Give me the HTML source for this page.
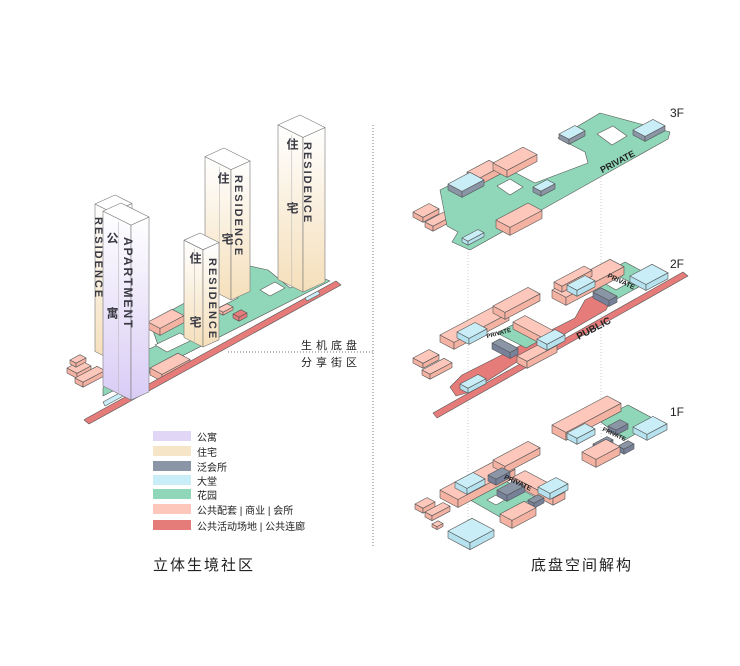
<!DOCTYPE html>
<html><head><meta charset="utf-8">
<style>
html,body{margin:0;padding:0;background:#fff}
#w{position:relative;width:740px;height:666px;overflow:hidden;font-family:"Liberation Sans","Noto Sans CJK SC",sans-serif}
svg{position:absolute;left:0;top:0}
.t{position:absolute;font-size:12px;color:#222;white-space:nowrap}
.v{position:absolute;writing-mode:vertical-rl;font-weight:bold;color:#3a3a44;font-size:11px;letter-spacing:2px;font-family:"Liberation Sans","Noto Sans CJK SC",sans-serif}
.lg{position:absolute;left:197px;font-size:10px;color:#222}
.sw{position:absolute;left:153px;width:38px;height:10px}
</style></head><body><div id="w">
<svg id="s" width="740" height="666" viewBox="0 0 740 666"></svg>

<div class="v" style="left:92px;top:217px">RESIDENCE</div>
<div class="v" style="left:121px;top:237px;font-size:12px">APARTMENT</div>
<div class="v" style="left:104px;top:232px;font-size:12px">公</div>
<div class="v" style="left:104px;top:307px;font-size:12px">寓</div>
<div class="v" style="left:206px;top:258px">RESIDENCE</div>
<div class="v" style="left:187px;top:252px;font-size:12px">住</div>
<div class="v" style="left:187px;top:316px;font-size:12px">宅</div>
<div class="v" style="left:232px;top:175px">RESIDENCE</div>
<div class="v" style="left:215px;top:172px;font-size:12px">住</div>
<div class="v" style="left:219px;top:233px;font-size:12px">宅</div>
<div class="v" style="left:301px;top:142px">RESIDENCE</div>
<div class="v" style="left:284px;top:138px;font-size:12px">住</div>
<div class="v" style="left:284px;top:202px;font-size:12px">宅</div>

<div class="t" style="left:301px;top:337px;font-size:11px;letter-spacing:4px">生机底盘</div>
<div class="t" style="left:301px;top:354px;font-size:11px;letter-spacing:4px">分享街区</div>

<div class="sw" style="top:431px;background:#e2d6f7"></div><div class="lg" style="top:429px">公寓</div>
<div class="sw" style="top:446px;background:#f6e5c6"></div><div class="lg" style="top:444px">住宅</div>
<div class="sw" style="top:461px;background:#8a95a6"></div><div class="lg" style="top:459px">泛会所</div>
<div class="sw" style="top:475px;background:#c9eef7"></div><div class="lg" style="top:473px">大堂</div>
<div class="sw" style="top:489px;background:#8fd7b8"></div><div class="lg" style="top:487px">花园</div>
<div class="sw" style="top:504px;background:#fdc8bb"></div><div class="lg" style="top:502px">公共配套 | 商业 | 会所</div>
<div class="sw" style="top:520px;background:#e57c7a"></div><div class="lg" style="top:518px">公共活动场地 | 公共连廊</div>

<div class="t" style="left:153px;top:554px;font-size:15px;letter-spacing:2px">立体生境社区</div>
<div class="t" style="left:531px;top:554px;font-size:15px;letter-spacing:2px">底盘空间解构</div>
<div class="t" style="left:670px;top:106px;font-size:12px">3F</div>
<div class="t" style="left:670px;top:257px;font-size:12px">2F</div>
<div class="t" style="left:670px;top:405px;font-size:12px">1F</div>

<script>
var s=document.getElementById('s'),o='',K=0.53;
function pts(a){return a.map(function(p){return p[0].toFixed(1)+','+p[1].toFixed(1)}).join(' ');}
function poly(a,f,st){o+='<polygon points="'+pts(a)+'" fill="'+f+'" stroke="'+(st||'#555')+'" stroke-width="0.6" stroke-linejoin="round"/>';}
// box with top-face left corner (x,y), a along up-right, b along down-right
function box(x,y,a,b,h,fill,side){
 var L=[x,y],T=[x+a,y-a*K],R=[x+a+b,y-a*K+b*K],B=[x+b,y+b*K];
 side=side||fill;
 if(h>0){
 poly([L,B,[B[0],B[1]+h],[L[0],L[1]+h]],side);
 poly([B,R,[R[0],R[1]+h],[B[0],B[1]+h]],side);}
 poly([L,T,R,B],fill);
}
function bx(x1,y1,x2,y2,f,h,fill,side){
 var w=x2-x1,a=w*f,b=w-a;
 var hh=Math.max(3,Math.min(h,y2-y1-w*K));
 box(x1,y1+a*K,a,b,hh,fill,side);
}
var G='#8fd7b8',R='#e57c7a',PK='#fdc8bb',PKd='#f4b2a2',B='#c9eef7',Bd='#b5e2ee',Gy='#8a95a6',Gyd='#77829a';
o+='<line x1="373" y1="125" x2="373" y2="548" stroke="#777" stroke-dasharray="1,2"/>';
o+='<line x1="228" y1="352" x2="373" y2="352" stroke="#777" stroke-dasharray="1,2"/>';
o+='<line x1="468" y1="240" x2="468" y2="540" stroke="#ccc" stroke-dasharray="1,2"/>';
o+='<line x1="601" y1="160" x2="601" y2="440" stroke="#ccc" stroke-dasharray="1,2"/>';
o+='<defs><linearGradient id="gr" x1="0" y1="0" x2="0" y2="1"><stop offset="0" stop-color="#fff"/><stop offset="1" stop-color="#f5dfba"/></linearGradient><linearGradient id="gp" x1="0" y1="0" x2="0" y2="1"><stop offset="0" stop-color="#fff"/><stop offset="1" stop-color="#d9ccf5"/></linearGradient></defs>';

// ===== LEFT =====
box(67,368,14,10,5,PK,PKd);box(75,378,22,8,5,PK,PKd);box(70,360,10,6,4,PK,PKd);
poly([[103,396],[330,281],[318,276],[290,288],[268,270],[250,266],[222,283],[238,298],[212,311],[190,300],[150,322],[158,345],[120,362],[103,388]],G);
poly([[155,345],[180,333],[192,340],[167,352]],'#fff');
poly([[260,290],[275,282],[285,288],[270,296]],'#fff');
box(148,322,24,12,7,PK,PKd);
box(150,368,28,12,7,PK,PKd);
box(217,309,10,6,3,PK,PKd);
box(233,314,8,6,4,R,R);
poly([[87,418],[336,281],[341,285],[89,424],[84,420]],R);
poly([[103,402],[125,390],[127,394],[105,406]],B);
poly([[305,298],[318,291],[320,294],[307,301]],B);
function tower(x1,top,x2,bot,split,c){
 var a=split-x1,b=x2-split,k=0.5;
 var tl=[x1,top+b*k*0.9],tb=[split,top+b*k*0.9+a*k],tt=[x1+b,top],tr=[x2,top+a*k];
 var dy=bot-tb[1];
 poly([tl,tb,[tb[0],bot],[tl[0],tl[1]+dy]],c,'#777');
 poly([tb,tr,[tr[0],tr[1]+dy],[tb[0],bot]],c,'#777');
 poly([tl,tt,tr,tb],'#fff','#777');
 o+='<line x1="'+(x1+a*0.55)+'" y1="'+(tl[1]+a*0.55*k+3)+'" x2="'+(x1+a*0.55)+'" y2="'+(bot-a*0.45*k)+'" stroke="#bbb" stroke-width="0.6"/>';
}
tower(278,115,325,292,303,'url(#gr)');
tower(205,148,250,300,231,'url(#gr)');
tower(95,195,132,360,112,'url(#gr)');
tower(184,233,219,347,203,'url(#gr)');
tower(103,203,149,400,131,'url(#gp)');

// ===== 3F =====
box(413,212,16,10,5,PK,PKd);box(425,222,20,8,5,PK,PKd);
poly([[440,190],[495,162],[535,183],[588,163],[585,152],[558,138],[600,113],[670,132],[668,139],[470,250],[452,242],[458,232],[447,226]],G);
poly([[497,186],[510,179],[523,187],[510,195]],'#fff');
poly([[597,134],[613,126],[627,136],[612,145]],'#fff');
box(467,172,22,12,7,PK,PKd);
box(493,163,30,14,7,PK,PKd);
box(448,184,22,14,6,B,Gy);
box(533,187,14,8,5,B,Gy);
box(496,220,32,14,8,PK,PKd);
box(462,238,16,6,4,B,Bd);
box(559,134,16,10,5,B,Gy);
box(633,130,20,12,5,B,Gy);
// ===== 2F =====
box(413,358,16,10,5,PK,PKd);box(422,370,22,8,5,PK,PKd);
poly([[433,413],[683,272],[688,276],[437,418]],R);
poly([[450,387],[462,375],[575,318],[585,300],[603,291],[612,298],[606,310],[520,360],[470,392],[456,396]],R);
box(460,384,18,8,5,B,Bd);
poly([[497,333],[520,321],[548,336],[526,348]],G);
box(440,335,55,14,7,PK,PKd);
box(493,306,35,12,7,PK,PKd);
box(513,322,12,32,7,PK,PKd);
box(517,356,30,10,7,PK,PKd);
box(457,332,18,12,6,B,Bd);
box(537,339,18,10,6,B,Bd);
box(492,343,8,18,6,Gy,Gyd);
poly([[585,285],[625,262],[655,278],[615,300]],G);
poly([[604,283],[618,276],[630,282],[616,290]],'#fff');
box(552,290,58,14,8,PK,PKd);
box(554,282,30,8,6,PK,PKd);
box(567,285,18,10,6,B,Bd);
box(593,292,8,16,6,Gy,Gyd);
box(630,276,22,16,6,B,Bd);
// ===== 1F =====
poly([[598,420],[628,405],[658,421],[625,440]],G);
box(552,425,55,14,8,PK,PKd);
box(633,427,20,14,6,B,Bd);
box(567,433,18,10,6,B,Bd);
box(608,426,12,8,5,Gy,Gyd);
box(593,444,14,6,5,Gy,Gyd);
box(618,446,10,6,5,Gy,Gyd);
box(582,452,24,14,8,PK,PKd);
poly([[465,497],[500,478],[535,497],[500,517]],G);
poly([[487,500],[496,495],[505,500],[496,505]],'#fff');
box(440,490,57,18,8,PK,PKd);
box(493,460,35,12,7,PK,PKd);
box(513,477,12,40,7,PK,PKd);
box(538,487,18,12,6,B,Bd);
box(455,482,18,12,6,B,Bd);
box(488,475,14,8,6,Gy,Gyd);
box(497,490,18,10,6,Gy,Gyd);
box(528,500,10,6,5,Gy,Gyd);
box(500,514,24,12,8,PK,PKd);
box(415,504,12,8,5,PK,PKd);box(425,512,18,7,5,PK,PKd);
box(432,524,6,5,3,PK,PKd);
box(448,531,24,22,7,B,Bd);
s.innerHTML+=o;
</script>
<svg width="740" height="666" style="pointer-events:none">
<text x="597" y="168" font-size="9" font-weight="bold" fill="#222" transform="rotate(-28 610 160)" font-family="Liberation Sans">PRIVATE</text>
<text x="607" y="283" font-size="7" font-weight="bold" fill="#222" transform="rotate(25 620 280)" font-family="Liberation Sans">PRIVATE</text>
<text x="573" y="333" font-size="10" font-weight="bold" fill="#222" transform="rotate(-28 590 325)" font-family="Liberation Sans">PUBLIC</text>
<text x="486" y="336" font-size="6" font-weight="bold" fill="#222" transform="rotate(-15 495 333)" font-family="Liberation Sans">PRIVATE</text>
<text x="603" y="434" font-size="6" font-weight="bold" fill="#222" transform="rotate(25 610 430)" font-family="Liberation Sans">PRIVATE</text>
<text x="502" y="484" font-size="7" font-weight="bold" fill="#222" transform="rotate(25 515 485)" font-family="Liberation Sans">PRIVATE</text>
</svg>
</div></body></html>
